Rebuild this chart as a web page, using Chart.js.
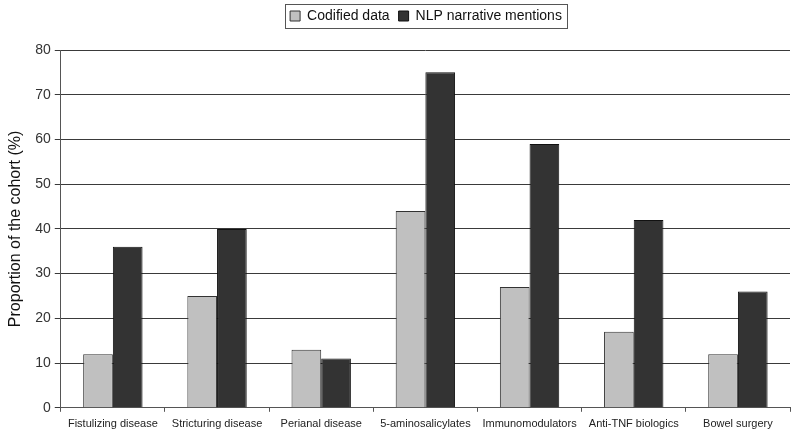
<!DOCTYPE html>
<html>
<head>
<meta charset="utf-8">
<script src="https://cdn.jsdelivr.net/npm/chart.js@4"></script>
<style>
  html, body { margin: 0; padding: 0; background: #fff; }
  #wrap { width: 800px; height: 435px; }
</style>
</head>
<body>
<div id="wrap"><canvas id="chart"></canvas></div>
<script>
// ---- data ----
const categories = ['Fistulizing disease', 'Stricturing disease', 'Perianal disease',
    '5-aminosalicylates', 'Immunomodulators', 'Anti-TNF biologics', 'Bowel surgery'];
const codifiedData = [12, 25, 13, 44, 27, 17, 12];
const nlpMentions = [36, 40, 11, 75, 59, 42, 26];
const yTicks = [0, 10, 20, 30, 40, 50, 60, 70, 80];

// extra space under the legend, and legend nudged to sit over the plot centre
const legendTweak = {
    id: 'legendTweak',
    beforeInit(chart) {
        const lg = chart.legend;
        const origFit = lg.fit;
        lg.fit = function () {
            origFit.call(this);
            this.height += 17;
        };
    },
    afterLayout(chart) {
        const lg = chart.legend;
        const shift = 28;
        lg.left += shift;
        lg.right += shift;
        lg.legendHitBoxes.forEach(b => { b.left += shift; });
    }
};

// draws a box round the legend, like the original
const legendBox = {
    id: 'legendBox',
    afterDraw(chart) {
        const lg = chart.legend;
        if (!lg || !lg.legendHitBoxes.length) return;
        const first = lg.legendHitBoxes[0];
        const last = lg.legendHitBoxes[lg.legendHitBoxes.length - 1];
        const ctx = chart.ctx;
        ctx.save();
        ctx.strokeStyle = '#555';
        ctx.lineWidth = 1;
        const x0 = Math.round(first.left - 5) + 0.5;
        const x1 = Math.round(last.left + last.width + 5) + 0.5;
        const y0 = Math.round(first.top - 5) + 0.5;
        const y1 = Math.round(first.top + first.height + 5) + 0.5;
        ctx.strokeRect(x0, y0, x1 - x0, y1 - y0);
        ctx.restore();
    }
};

new Chart(document.getElementById('chart'), {
    type: 'bar',
    data: {
        labels: categories,
        datasets: [{
            label: 'Codified data',
            data: codifiedData,
            backgroundColor: '#c0c0c0',
            borderColor: '#333',
            borderWidth: 1,
            categoryPercentage: 0.57,
            barPercentage: 1.0
        }, {
            label: 'NLP narrative mentions',
            data: nlpMentions,
            backgroundColor: '#333333',
            borderColor: '#111',
            borderWidth: 1,
            categoryPercentage: 0.57,
            barPercentage: 1.0
        }]
    },
    options: {
        responsive: true,
        maintainAspectRatio: false,
        animation: false,
        layout: { padding: { left: 6, right: 10, top: 0, bottom: -2 } },
        plugins: {
            legend: {
                position: 'top',
                labels: {
                    boxWidth: 10,
                    boxHeight: 10,
                    padding: 9,
                    color: '#111',
                    font: { family: 'Liberation Sans, Arial', size: 14 }
                }
            },
            tooltip: { enabled: false }
        },
        scales: {
            x: {
                grid: { drawOnChartArea: false, drawTicks: true, tickLength: 4, color: '#555' },
                border: { display: true, color: '#555' },
                ticks: {
                    color: '#222',
                    maxRotation: 0,
                    autoSkip: false,
                    padding: 6,
                    font: { family: 'Liberation Sans, Arial', size: 11 }
                }
            },
            y: {
                min: 0,
                max: 80,
                afterBuildTicks(axis) {
                    axis.ticks = yTicks.map(v => ({ value: v }));
                },
                grid: { color: '#3a3a3a', tickLength: 6, lineWidth: 1 },
                border: { display: true, color: '#555' },
                ticks: {
                    color: '#333',
                    padding: 4,
                    font: { family: 'Liberation Sans, Arial', size: 14 }
                },
                title: {
                    display: true,
                    text: 'Proportion of the cohort (%)',
                    color: '#111',
                    padding: { top: 0, bottom: 6 },
                    font: { family: 'Liberation Sans, Arial', size: 16 }
                }
            }
        }
    },
    plugins: [legendTweak, legendBox]
});
</script>
</body>
</html>
